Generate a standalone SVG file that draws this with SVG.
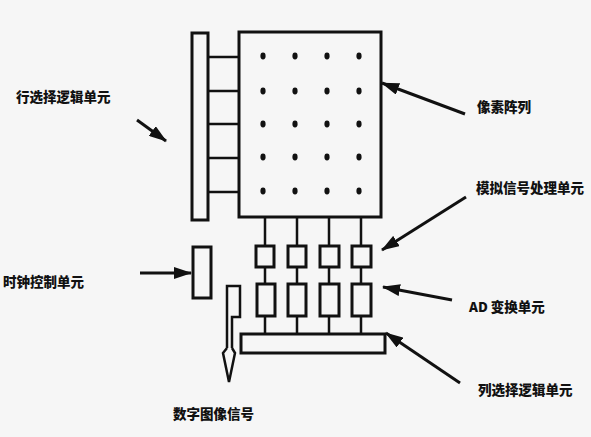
<svg xmlns="http://www.w3.org/2000/svg" width="591" height="437" viewBox="0 0 591 437">
<style>
.box{fill:none;stroke:#111;stroke-width:3}
.ln{fill:none;stroke:#111;stroke-width:2.5}
.arr{fill:none;stroke:#111;stroke-width:3;marker-end:url(#ah)}
.dot{fill:#111}
text{font-family:"Noto Sans CJK SC","Liberation Sans",sans-serif;font-size:13.5px;font-weight:900;fill:#111}
</style>
<defs>
<marker id="ah" viewBox="0 0 18 12" refX="17" refY="6" markerWidth="18" markerHeight="12" markerUnits="userSpaceOnUse" orient="auto">
<path d="M0,0 L18,6 L0,12 Z" fill="#111"/>
</marker>
</defs>
<rect width="591" height="437" fill="#f6f6f6"/>
<g id="row-select">
<rect class="box" x="192" y="33" width="16" height="187"/>
</g>
<g id="pixel-array">
<rect class="box" x="239" y="32" width="142" height="185"/>
<g class="dot">
<ellipse cx="263" cy="56" rx="2.6" ry="3.4"/><ellipse cx="295" cy="56" rx="2.6" ry="3.4"/><ellipse cx="327" cy="56" rx="2.6" ry="3.4"/><ellipse cx="359" cy="56" rx="2.6" ry="3.4"/>
<ellipse cx="263" cy="91" rx="2.6" ry="3.4"/><ellipse cx="295" cy="91" rx="2.6" ry="3.4"/><ellipse cx="327" cy="91" rx="2.6" ry="3.4"/><ellipse cx="359" cy="91" rx="2.6" ry="3.4"/>
<ellipse cx="263" cy="124" rx="2.6" ry="3.4"/><ellipse cx="295" cy="124" rx="2.6" ry="3.4"/><ellipse cx="327" cy="124" rx="2.6" ry="3.4"/><ellipse cx="359" cy="124" rx="2.6" ry="3.4"/>
<ellipse cx="263" cy="157" rx="2.6" ry="3.4"/><ellipse cx="295" cy="157" rx="2.6" ry="3.4"/><ellipse cx="327" cy="157" rx="2.6" ry="3.4"/><ellipse cx="359" cy="157" rx="2.6" ry="3.4"/>
<ellipse cx="263" cy="191" rx="2.6" ry="3.4"/><ellipse cx="295" cy="191" rx="2.6" ry="3.4"/><ellipse cx="327" cy="191" rx="2.6" ry="3.4"/><ellipse cx="359" cy="191" rx="2.6" ry="3.4"/>
</g>
</g>
<g id="analog-units">
<rect class="box" x="256" y="246" width="18" height="21"/>
<rect class="box" x="288" y="246" width="18" height="21"/>
<rect class="box" x="320" y="246" width="19" height="21"/>
<rect class="box" x="352" y="246" width="19" height="21"/>
</g>
<g id="ad-units">
<rect class="box" x="257" y="284" width="18" height="32"/>
<rect class="box" x="288" y="284" width="18" height="32"/>
<rect class="box" x="320" y="284" width="19" height="32"/>
<rect class="box" x="352" y="284" width="19" height="32"/>
</g>
<g id="col-select">
<rect class="box" x="241" y="334" width="144" height="19"/>
</g>
<g id="clock">
<rect class="box" x="193" y="247" width="18" height="51"/>
</g>
<g id="connectors">
<path class="ln" d="M208,57 H239 M208,91 H239 M208,124 H239 M208,158 H239 M208,192 H239"/>
<path class="ln" d="M265,217 V246 M297,217 V246 M329,217 V246 M361,217 V246"/>
<path class="ln" d="M265,267 V284 M297,267 V284 M329,267 V284 M361,267 V284"/>
<path class="ln" d="M265,316 V334 M297,316 V334 M329,316 V334 M361,316 V334"/>
<path class="ln" d="M227,348 V286 H240 V317 H232 V348 M227,348 L223,353 L229,382 L235,353 L232,348"/>
<path class="arr" d="M137,120 L166,141"/>
<path class="arr" d="M140,273 L191,273"/>
<path class="arr" d="M465,114 L382,83"/>
<path class="arr" d="M466,197 L382,250"/>
<path class="arr" d="M452,300 L383,287"/>
<path class="arr" d="M460,383 L386,333"/>
</g>
<g id="labels">
<text x="16" y="102" font-size="13.7">行选择逻辑单元</text>
<text x="3" y="287">时钟控制单元</text>
<text x="477" y="112">像素阵列</text>
<text x="476" y="193">模拟信号处理单元</text>
<text x="469" y="312">AD 变换单元</text>
<text x="478" y="395">列选择逻辑单元</text>
<text x="173" y="419">数字图像信号</text>
</g>
</svg>
